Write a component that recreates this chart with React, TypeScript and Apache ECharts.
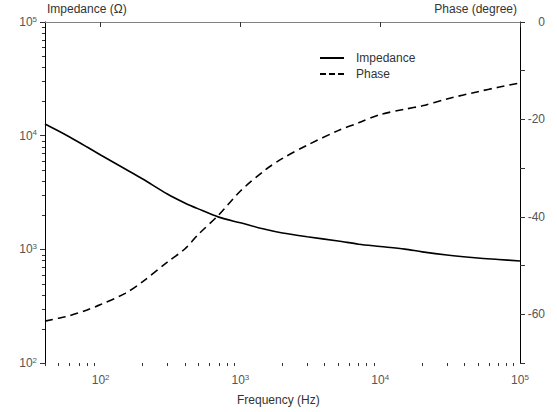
import React, { useEffect, useRef } from "react";
import * as echarts from "echarts";

const frequencies = [40, 50, 60, 80, 100, 150, 200, 300, 400, 500, 700, 1000, 1500, 2000, 3000, 5000, 7000, 10000, 15000, 20000, 30000, 50000, 70000, 100000];
const impedance = [12670, 10990, 9730, 7940, 6760, 5090, 4160, 3070, 2560, 2270, 1920, 1710, 1500, 1390, 1290, 1185, 1110, 1060, 1005, 950, 892, 840, 815, 789];
const phase = [-61.4, -60.8, -60.3, -59.1, -58.0, -55.7, -53.3, -49.3, -46.6, -43.6, -39.6, -34.7, -30.4, -28.0, -25.3, -22.3, -20.7, -19.0, -17.9, -17.2, -15.8, -14.3, -13.4, -12.5];

const xMajorTicks = [100, 1000, 10000, 100000];
const xMinorTicks = [40, 50, 60, 70, 80, 90, 200, 300, 400, 500, 600, 700, 800, 900, 2000, 3000, 4000, 5000, 6000, 7000, 8000, 9000, 20000, 30000, 40000, 50000, 60000, 70000, 80000, 90000];
const yMajorTicks = [100, 1000, 10000, 100000];
const yMinorTicks = [200, 300, 400, 500, 600, 700, 800, 900, 2000, 3000, 4000, 5000, 6000, 7000, 8000, 9000, 20000, 30000, 40000, 50000, 60000, 70000, 80000, 90000];

const FONT = "Liberation Sans, Arial, sans-serif";
const LABEL_COLOR = "#555";

const powerLabel = (v: number) => {
  const e = Math.round(Math.log10(v));
  return `{b|10}{s|${e}}`;
};
const rich = {
  b: { fontSize: 12, fontFamily: FONT, color: LABEL_COLOR },
  s: { fontSize: 8, fontFamily: FONT, color: LABEL_COLOR, padding: [0, 0, 6, 0] },
};

export default function App() {
  const ref = useRef<HTMLDivElement>(null);
  useEffect(() => {
    document.body.style.margin = "0";
    const chart = echarts.init(ref.current!, null, { renderer: "svg" });
    const impData = frequencies.map((f, i) => [f, impedance[i]]);
    const phData = frequencies.map((f, i) => [f, phase[i]]);
    const xMin = frequencies[0];
    chart.setOption({
      animation: false,
      backgroundColor: "#fff",
      textStyle: { fontFamily: FONT },
      grid: { left: 45, right: 37, top: 22, bottom: 49, containLabel: false },
      legend: {
        orient: "vertical",
        left: 315,
        top: 47,
        itemWidth: 24,
        itemHeight: 2,
        itemGap: 4,
        data: [
          { name: "Impedance", icon: "path://M0,0H24V2H0Z" },
          { name: "Phase", icon: "path://M0,0H6V2H0Z M9,0H15V2H9Z M18,0H24V2H18Z" },
        ],
        itemStyle: { color: "#000" },
        textStyle: { fontSize: 12, color: "#333", fontFamily: FONT, padding: [0, 0, 0, 7] },
      },
      xAxis: [
        {
          type: "log",
          logBase: 10,
          min: 40,
          max: 100000,
          position: "bottom",
          axisLine: { show: true, lineStyle: { color: "#808080", width: 1 } },
          axisTick: { show: true, length: 5, customValues: xMajorTicks, lineStyle: { color: "#333" } },
          axisLabel: { show: true, margin: 10, customValues: xMajorTicks, formatter: powerLabel, rich },
          splitLine: { show: false },
          minorTick: { show: false },
        },
        {
          type: "log",
          logBase: 10,
          min: 40,
          max: 100000,
          position: "bottom",
          axisLine: { show: false },
          axisTick: { show: true, length: 3, customValues: xMinorTicks, lineStyle: { color: "#333" } },
          axisLabel: { show: false },
          splitLine: { show: false },
        },
        {
          type: "log",
          logBase: 10,
          min: 40,
          max: 100000,
          position: "top",
          axisLine: { show: true, lineStyle: { color: "#808080", width: 1 } },
          axisTick: { show: false },
          axisLabel: { show: false },
          splitLine: { show: false },
        },
      ],
      yAxis: [
        {
          type: "log",
          logBase: 10,
          min: 100,
          max: 100000,
          position: "left",
          axisLine: { show: true, lineStyle: { color: "#000", width: 1 } },
          axisTick: { show: true, length: 5, customValues: yMajorTicks, lineStyle: { color: "#333" } },
          axisLabel: { show: true, margin: 8, customValues: yMajorTicks, formatter: powerLabel, rich },
          splitLine: { show: false },
        },
        {
          type: "value",
          min: -70,
          max: 0,
          interval: 10,
          position: "right",
          axisLine: { show: true, lineStyle: { color: "#000", width: 1 } },
          axisTick: { show: true, length: 5, lineStyle: { color: "#333" } },
          axisLabel: {
            show: true,
            margin: 25,
            align: "right",
            fontSize: 12,
            color: LABEL_COLOR,
            fontFamily: FONT,
            formatter: (v: number) => (v % 20 === 0 ? String(v) : ""),
          },
          splitLine: { show: false },
        },
      ],
      series: [
        {
          name: "Impedance",
          type: "line",
          xAxisIndex: 0,
          yAxisIndex: 0,
          data: impData,
          smooth: 0.3,
          symbol: "none",
          lineStyle: { color: "#000", width: 1.6, type: "solid" },
          itemStyle: { color: "#000" },
        },
        {
          name: "Phase",
          type: "line",
          xAxisIndex: 0,
          yAxisIndex: 1,
          data: phData,
          smooth: 0.3,
          symbol: "none",
          lineStyle: { color: "#000", width: 1.6, type: [8, 5] },
          itemStyle: { color: "#000" },
        },
        {
          name: "yMinorTicks",
          type: "custom",
          xAxisIndex: 0,
          yAxisIndex: 0,
          silent: true,
          clip: false,
          z: 10,
          data: yMinorTicks.map((v) => [xMin, v]),
          renderItem: (params: any, api: any) => {
            const p = api.coord([api.value(0), api.value(1)]);
            const y = Math.round(p[1]) + 0.5;
            return {
              type: "line",
              shape: { x1: p[0] - 3, y1: y, x2: p[0], y2: y },
              style: { stroke: "#333", lineWidth: 1 },
            };
          },
        },
      ],
      graphic: [
        {
          type: "text",
          left: 47,
          top: 3,
          style: { text: "Impedance (Ω)", fontSize: 12, fill: "#333", fontFamily: FONT },
        },
        {
          type: "text",
          right: 40,
          top: 3,
          style: { text: "Phase (degree)", fontSize: 12, fill: "#333", fontFamily: FONT },
        },
        {
          type: "text",
          left: 237,
          top: 394,
          style: { text: "Frequency (Hz)", fontSize: 12, fill: "#333", fontFamily: FONT },
        },
      ],
    });
    return () => chart.dispose();
  }, []);
  return <div ref={ref} style={{ width: 557, height: 412 }} />;
}
